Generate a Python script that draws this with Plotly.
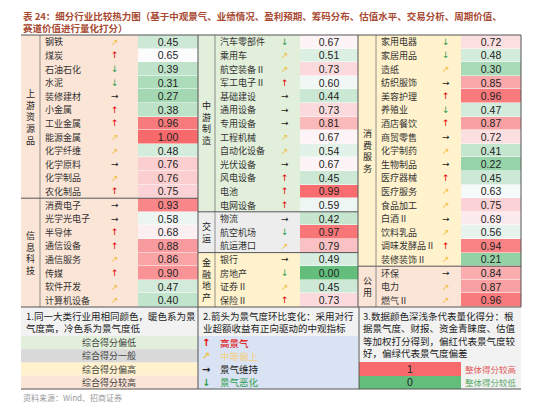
import plotly.graph_objects as go

# ---- data ----
col1_names = ["钢铁", "煤炭", "石油石化", "水泥", "装修建材", "小金属", "工业金属", "能源金属", "化学纤维", "化学原料",
              "化学制品", "农化制品", "消费电子", "光学光电子", "半导体", "通信设备", "通信服务", "传媒", "软件开发", "计算机设备"]
col1_trend = ["ne", "up", "down", "down", "right", "up", "up", "ne", "ne", "right",
              "ne", "up", "right", "right", "up", "up", "ne", "up", "ne", "ne"]
col1_score = [0.45, 0.65, 0.39, 0.31, 0.27, 0.38, 0.96, 1.00, 0.48, 0.76,
              0.76, 0.75, 0.93, 0.58, 0.68, 0.88, 0.86, 0.90, 0.47, 0.40]

col2_names = ["汽车零部件", "乘用车", "航空装备Ⅱ", "军工电子Ⅱ", "基础建设", "通用设备", "专用设备", "工程机械", "自动化设备", "光伏设备",
              "风电设备", "电池", "电网设备", "物流", "航空机场", "航运港口", "银行", "房地产", "证券Ⅱ", "保险Ⅱ"]
col2_trend = ["down", "ne", "ne", "up", "right", "right", "right", "ne", "ne", "right",
              "up", "up", "up", "right", "down", "ne", "right", "down", "ne", "up"]
col2_score = [0.67, 0.51, 0.73, 0.60, 0.44, 0.73, 0.81, 0.67, 0.54, 0.67,
              0.45, 0.99, 0.59, 0.42, 0.97, 0.79, 0.49, 0.00, 0.45, 0.73]

col3_names = ["家用电器", "家居用品", "造纸", "纺织服饰", "美容护理", "养殖业", "酒店餐饮", "商贸零售", "化学制药", "生物制品",
              "医疗器械", "医疗服务", "食品加工", "白酒Ⅱ", "饮料乳品", "调味发酵品Ⅱ", "装修装饰Ⅱ", "环保", "电力", "燃气Ⅱ"]
col3_trend = ["down", "down", "ne", "right", "up", "down", "up", "right", "ne", "right",
              "up", "ne", "ne", "right", "ne", "up", "ne", "right", "ne", "ne"]
col3_score = [0.72, 0.48, 0.30, 0.85, 0.96, 0.47, 0.87, 0.72, 0.41, 0.22,
              0.45, 0.63, 0.75, 0.69, 0.56, 0.94, 0.21, 0.84, 0.87, 0.96]

# groups: (label, first row, row count, background)
col1_groups = [("上游资源品", 0, 12, "#fbe5d6"), ("信息科技", 12, 8, "#fbe5d6")]
col2_groups = [("中游制造", 0, 13, "#e2efda"), ("交运", 13, 3, "#ededed"), ("金融地产", 16, 4, "#fff2cc")]
col3_groups = [("消费服务", 0, 17, "#fff2cc"), ("公用", 17, 3, "#fbe5d6")]

legend_bands = ["综合得分偏低", "综合得分一般", "综合得分偏高", "综合得分较高"]
legend_band_colors = ["#e2efda", "#d9d9d9", "#fff2cc", "#fbe5d6"]
trend_labels = ["高景气", "中等偏上", "景气维持", "景气恶化"]
trend_keys = ["up", "ne", "right", "down"]

ARROW = {"up": ("↑", "#e00000"), "ne": ("↗", "#f0c040"), "right": ("→", "#222222"), "down": ("↓", "#2e9e4f")}

SCALE = [[0, "#63be7b"], [0.65, "#fcfcff"], [1, "#f8696b"]]
CJK = "Noto Sans CJK SC"
TOP, RH = 27, 13.6
BOTTOM = TOP + 20 * RH

fig = go.Figure()
shapes, ann = [], []

columns = [
    (col1_names, col1_trend, col1_score, col1_groups, 13, 32, 107, 130, 190),
    (col2_names, col2_trend, col2_score, col2_groups, 190, 207, 277, 292, 350),
    (col3_names, col3_trend, col3_score, col3_groups, 350, 368, 438, 453, 513),
]
for names, trend, score, groups, gx, nx, ax, vx0, vx1 in columns:
    for label, r0, n, bg in groups:
        y0, y1 = TOP + r0 * RH, TOP + (r0 + n) * RH
        shapes.append(dict(type="rect", x0=gx, x1=vx0, y0=y0, y1=y1, fillcolor=bg, line_width=0, layer="below"))
        shapes.append(dict(type="line", x0=nx, x1=nx, y0=y0, y1=y1, line=dict(color="#777", width=0.8)))
        shapes.append(dict(type="line", x0=gx, x1=vx1, y0=y1, y1=y1, line=dict(color="#555", width=1)))
        ann.append(dict(x=(gx + nx) / 2, y=(y0 + y1) / 2, text="<br>".join(label), showarrow=False,
                        font=dict(family=CJK, size=9, color="#222"), xanchor="center"))
    for i, (nm, t, s) in enumerate(zip(names, trend, score)):
        yc = TOP + (i + 0.5) * RH
        ann.append(dict(x=nx + 3, y=yc, text=nm, showarrow=False, xanchor="left",
                        font=dict(family=CJK, size=9, color="#333")))
        ch, c = ARROW[t]
        ann.append(dict(x=ax, y=yc, text=ch, showarrow=False, font=dict(family="DejaVu Sans", size=9, color=c)))
    fig.add_trace(go.Heatmap(z=[[v] for v in score], x0=(vx0 + vx1) / 2, dx=vx1 - vx0,
                             y0=TOP + RH / 2, dy=RH, zmin=0, zmax=1, colorscale=SCALE, showscale=False,
                             texttemplate="%{z:.2f}", textfont=dict(family="Liberation Sans", size=10.5, color="#222"),
                             xgap=0, ygap=0.5, hoverinfo="skip"))
    shapes.append(dict(type="line", x0=vx1, x1=vx1, y0=TOP, y1=BOTTOM, line=dict(color="#555", width=1)))

shapes.append(dict(type="line", x0=13, x1=513, y0=TOP, y1=TOP, line=dict(color="#555", width=1)))

# ---- bottom notes ----
NB0, NB1 = BOTTOM, 381
shapes.append(dict(type="rect", x0=13, x1=513, y0=NB0, y1=NB1, fillcolor="#f2f2f2", line_width=0, layer="below"))
LB0 = 328
bh = (NB1 - LB0) / 4
for i, (t, c) in enumerate(zip(legend_bands, legend_band_colors)):
    y0 = LB0 + i * bh
    shapes.append(dict(type="rect", x0=13, x1=190, y0=y0, y1=y0 + bh, fillcolor=c, line_width=0, layer="below"))
    ann.append(dict(x=101, y=y0 + bh / 2, text=t, showarrow=False, font=dict(family=CJK, size=9, color="#444")))
ann.append(dict(x=16, y=314, text="1.同一大类行业用相同颜色，暖色系为景<br>气度高，冷色系为景气度低", showarrow=False,
                xanchor="left", align="left", font=dict(family=CJK, size=9.5, color="#222")))

shapes.append(dict(type="rect", x0=190, x1=350, y0=LB0, y1=NB1, fillcolor="#dae3f3", line_width=0, layer="below"))
ann.append(dict(x=193, y=314, text="2.箭头为景气度环比变化：采用对行<br>业超额收益有正向驱动的中观指标", showarrow=False,
                xanchor="left", align="left", font=dict(family=CJK, size=9.5, color="#222")))
for i, (t, k) in enumerate(zip(trend_labels, trend_keys)):
    yc = LB0 + (i + 0.5) * bh
    ch, c = ARROW[k]
    ann.append(dict(x=198, y=yc, text="<b>" + ch + "</b>", showarrow=False, font=dict(family="DejaVu Sans", size=10, color=c)))
    ann.append(dict(x=210, y=yc, text=t, showarrow=False, xanchor="left",
                    font=dict(family=CJK, size=9.5, color=c if k != "ne" else "#f5d080")))

ann.append(dict(x=353, y=326, text="3.数据颜色深浅条代表量化得分：根<br>据景气度、财报、资金青睐度、估值<br>等加权打分得到，偏红代表景气度较<br>好，偏绿代表景气度偏差",
                showarrow=False, xanchor="left", align="left", font=dict(family=CJK, size=9.5, color="#222")))
fig.add_trace(go.Heatmap(z=[[1], [0]], x0=402, dx=102, y0=354 + 6.75, dy=13.5, zmin=0, zmax=1, colorscale=SCALE,
                         showscale=False, texttemplate="%{z:d}", textfont=dict(family="Liberation Sans", size=10.5, color="#222"),
                         hoverinfo="skip"))
ann.append(dict(x=455, y=361, text="整体得分较高", showarrow=False, xanchor="left", font=dict(family=CJK, size=8.5, color="#e05a5a")))
ann.append(dict(x=455, y=374, text="整体得分较低", showarrow=False, xanchor="left", font=dict(family=CJK, size=8.5, color="#5aaa6a")))
for x in (190, 351):
    shapes.append(dict(type="line", x0=x, x1=x, y0=NB0, y1=NB1, line=dict(color="#555", width=1)))
shapes.append(dict(type="line", x0=13, x1=513, y0=NB1, y1=NB1, line=dict(color="#555", width=1)))

ann.append(dict(x=13, y=8, text="<b>表 24：细分行业比较热力图（基于中观景气、业绩情况、盈利预期、筹码分布、估值水平、交易分析、周期价值、</b>",
                showarrow=False, xanchor="left", font=dict(family=CJK, size=9.5, color="#a84a32")))
ann.append(dict(x=13, y=20, text="<b>赛道价值进行量化打分）</b>", showarrow=False, xanchor="left",
                font=dict(family=CJK, size=9.5, color="#a84a32")))
ann.append(dict(x=13, y=389, text="资料来源：Wind、招商证券", showarrow=False, xanchor="left",
                font=dict(family=CJK, size=8, color="#999")))

fig.update_layout(width=550, height=403, margin=dict(l=0, r=0, t=0, b=0), paper_bgcolor="white",
                  plot_bgcolor="white", shapes=shapes, annotations=ann, showlegend=False,
                  xaxis=dict(range=[0, 550], visible=False, fixedrange=True),
                  yaxis=dict(range=[403, 0], visible=False, fixedrange=True))
fig.write_html("out.html")
